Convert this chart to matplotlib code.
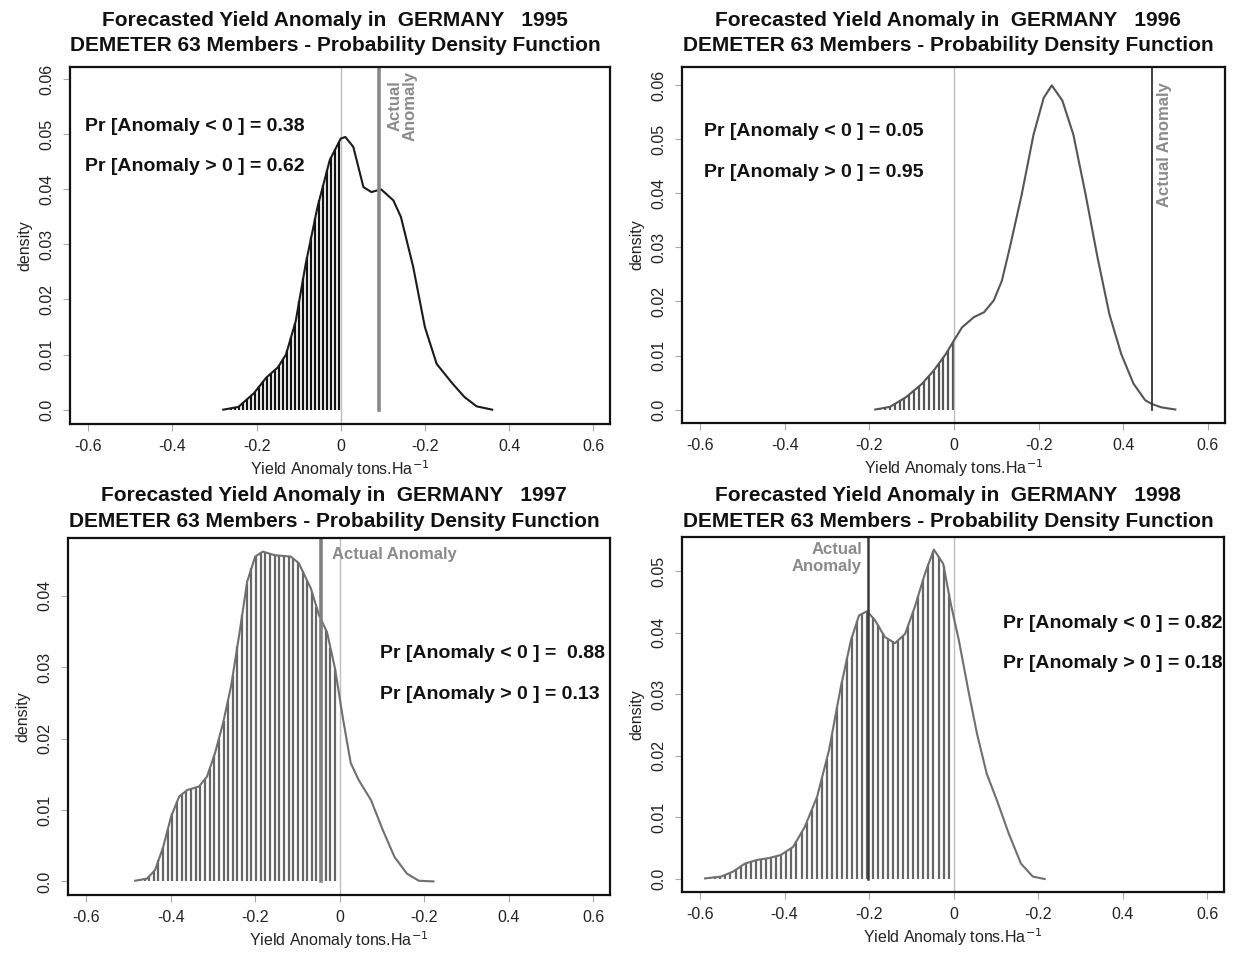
import matplotlib
matplotlib.use("Agg")
import matplotlib.pyplot as plt
import numpy as np

plt.rcParams['font.family'] = ['Liberation Sans', 'DejaVu Sans']
bold_family = ['Liberation Sans', 'DejaVu Sans']

years = [1995, 1996, 1997, 1998]

# kernel density curves (yield anomaly, density)
x95 = [-0.279, -0.243, -0.206, -0.177, -0.149, -0.130, -0.107, -0.083, -0.055, -0.026,
       0.0, 0.011, 0.030, 0.054, 0.073, 0.096, 0.125, 0.143, 0.172, 0.200,
       0.228, 0.266, 0.294, 0.323, 0.360]
d95 = [0.0, 0.0005, 0.003, 0.0058, 0.0077, 0.0100, 0.0160, 0.0265, 0.0368, 0.0453,
       0.0492, 0.0495, 0.0477, 0.0404, 0.0395, 0.0400, 0.0380, 0.0350, 0.0260, 0.0150,
       0.0083, 0.0047, 0.0023, 0.0006, 0.0]

x96 = [-0.186, -0.151, -0.113, -0.075, -0.047, -0.019, 0.0, 0.019, 0.047, 0.071,
       0.094, 0.113, 0.132, 0.160, 0.188, 0.212, 0.231, 0.256, 0.282, 0.311,
       0.339, 0.367, 0.395, 0.424, 0.452, 0.468, 0.490, 0.523]
d96 = [0.0, 0.0005, 0.0023, 0.0048, 0.0073, 0.0103, 0.0128, 0.0152, 0.0171, 0.0180,
       0.0202, 0.0238, 0.0300, 0.0398, 0.0509, 0.0577, 0.0600, 0.0572, 0.0509, 0.0398,
       0.0282, 0.0177, 0.0103, 0.0048, 0.0017, 0.0010, 0.0004, 0.0]

x97 = [-0.484, -0.456, -0.437, -0.418, -0.399, -0.380, -0.361, -0.333, -0.314, -0.295,
       -0.276, -0.257, -0.238, -0.219, -0.200, -0.182, -0.154, -0.116, -0.097, -0.068,
       -0.049, -0.030, -0.011, 0.008, 0.026, 0.045, 0.074, 0.102, 0.130, 0.159,
       0.187, 0.222]
d97 = [0.0001, 0.0004, 0.0016, 0.0048, 0.0091, 0.0119, 0.0128, 0.0133, 0.0147, 0.0180,
       0.0222, 0.0274, 0.0345, 0.0420, 0.0455, 0.0462, 0.0457, 0.0455, 0.0446, 0.0410,
       0.0373, 0.0349, 0.0298, 0.0227, 0.0166, 0.0142, 0.0114, 0.0072, 0.0034, 0.0011,
       0.0001, 0.0]

x98 = [-0.588, -0.550, -0.522, -0.494, -0.465, -0.437, -0.409, -0.380, -0.352, -0.323,
       -0.295, -0.267, -0.243, -0.224, -0.205, -0.186, -0.163, -0.139, -0.115, -0.092,
       -0.068, -0.047, -0.025, -0.007, 0.012, 0.036, 0.055, 0.078, 0.102, 0.130,
       0.159, 0.187, 0.215]
d98 = [0.0001, 0.0004, 0.0012, 0.0025, 0.0031, 0.0034, 0.0039, 0.0052, 0.0085, 0.0134,
       0.0209, 0.0312, 0.0388, 0.0428, 0.0435, 0.0420, 0.0393, 0.0383, 0.0398, 0.0442,
       0.0496, 0.0535, 0.0512, 0.0447, 0.0388, 0.0301, 0.0236, 0.0171, 0.0128, 0.0074,
       0.0025, 0.0004, 0.0]

actual = [0.09, 0.468, -0.044, -0.202]
pr_below = ['0.38', '0.05', ' 0.88', '0.82']
pr_above = ['0.62', '0.95', '0.13', '0.18']

xticks = [-0.6, -0.4, -0.2, 0.0, 0.2, 0.4, 0.6]
xticklabels = ['-0.6', '-0.4', '-0.2', '0', '-0.2', '0.4', '0.6']
yticks = [[0.0, 0.01, 0.02, 0.03, 0.04, 0.05, 0.06],
          [0.0, 0.01, 0.02, 0.03, 0.04, 0.05, 0.06],
          [0.0, 0.01, 0.02, 0.03, 0.04],
          [0.0, 0.01, 0.02, 0.03, 0.04, 0.05]]
yticklabels = [['0.0', '0.01', '0.02', '0.03', '0.04', '0.05', '0.06'],
               ['0.0', '0.01', '0.02', '0.03', '0.04', '0.05', '0.06'],
               ['0.0', '0.01', '0.02', '0.03', '0.04'],
               ['0.0', '0.01', '0.02', '0.03', '0.04', '0.05']]

curves = [(x95, d95), (x96, d96), (x97, d97), (x98, d98)]
ylims = [(-0.0026, 0.0622), (-0.0025, 0.0634), (-0.0019, 0.0481), (-0.0021, 0.0555)]
positions = [[0.0568, 0.5565, 0.438, 0.3734],
             [0.553, 0.5575, 0.4404, 0.3724],
             [0.0552, 0.0638, 0.4396, 0.3734],
             [0.553, 0.067, 0.4400, 0.3710]]
title_y = [0.979, 0.979, 0.482, 0.482]
curve_col = ['#1a1a1a', '#555555', '#6f6f6f', '#6f6f6f']
hatch_col = ['#111111', '#555555', '#666666', '#666666']
hatch_step = [0.0095, 0.0115, 0.011, 0.012]
actual_col = ['#888888', '#333333', '#808080', '#3a3a3a']
actual_lw = [2.6, 1.3, 2.6, 1.8]

fig = plt.figure(figsize=(12.33, 9.56), dpi=100)

for i in range(4):
    ax = fig.add_axes(positions[i])
    xs, ds = np.array(curves[i][0]), np.array(curves[i][1])

    # vertical shading under the curve for negative anomalies
    hx = np.arange(xs[0], 0.0, hatch_step[i])
    ax.vlines(hx, 0, np.interp(hx, xs, ds), color=hatch_col[i], lw=1.6)

    ax.axvline(0, color='#bdbdbd', lw=1.0)
    ax.plot(xs, ds, color=curve_col[i], lw=1.5, solid_joinstyle='round')
    ax.plot([actual[i], actual[i]], [0, ylims[i][1]], color=actual_col[i],
            lw=actual_lw[i])

    ax.set_xlim(-0.643, 0.64)
    ax.set_ylim(*ylims[i])
    ax.set_xticks(xticks)
    ax.set_xticklabels(xticklabels)
    ax.set_yticks(yticks[i])
    ax.set_yticklabels(yticklabels[i], rotation=90, va='center')
    ax.tick_params(length=5, color='#aaaaaa', labelsize=11.5, labelcolor='#222222',
                   pad=6)
    for s in ax.spines.values():
        s.set_linewidth(1.6)
        s.set_color('#111111')

    ax.set_xlabel('Yield Anomaly tons.Ha$^{-1}$', fontsize=11.5, color='#222222',
                  labelpad=3)
    ax.set_ylabel('density', fontsize=11.5, color='#222222', labelpad=5)

    bb = ax.get_position()
    cx = (bb.x0 + bb.x1) / 2 - 0.004
    ty = title_y[i]
    fig.text(cx, ty, 'Forecasted Yield Anomaly in  GERMANY   %d' % years[i],
             ha='center', va='center', fontsize=15, fontweight='bold',
             family=bold_family, color='#111111')
    fig.text(cx, ty - 0.027, 'DEMETER 63 Members - Probability Density Function',
             ha='center', va='center', fontsize=15, fontweight='bold',
             family=bold_family, color='#111111')

    pr_kw = dict(fontsize=14, fontweight='bold', family=bold_family, color='#111111',
                 va='center', ha='left')
    if i == 0:
        ax.text(-0.608, 0.0514, 'Pr [Anomaly < 0 ] = ' + pr_below[i], **pr_kw)
        ax.text(-0.608, 0.0442, 'Pr [Anomaly > 0 ] = ' + pr_above[i], **pr_kw)
        ax.text(0.112, 0.0615, 'Actual\nAnomaly', rotation=90, ha='left', va='top',
                multialignment='center', fontsize=12, fontweight='bold',
                color='#8a8a8a', family=bold_family, linespacing=0.95)
    elif i == 1:
        ax.text(-0.591, 0.0515, 'Pr [Anomaly < 0 ] = ' + pr_below[i], **pr_kw)
        ax.text(-0.591, 0.0438, 'Pr [Anomaly > 0 ] = ' + pr_above[i], **pr_kw)
        ax.text(0.48, 0.0605, 'Actual Anomaly', rotation=90, ha='left', va='top',
                fontsize=12, fontweight='bold', color='#8a8a8a', family=bold_family)
    elif i == 2:
        ax.text(0.0955, 0.0319, 'Pr [Anomaly < 0 ] = ' + pr_below[i], **pr_kw)
        ax.text(0.0955, 0.0262, 'Pr [Anomaly > 0 ] = ' + pr_above[i], **pr_kw)
        ax.text(-0.018, 0.0458, 'Actual Anomaly', ha='left', va='center',
                fontsize=12, fontweight='bold', color='#8a8a8a', family=bold_family)
    else:
        ax.text(0.116, 0.0415, 'Pr [Anomaly < 0 ] = ' + pr_below[i], **pr_kw)
        ax.text(0.116, 0.0350, 'Pr [Anomaly > 0 ] = ' + pr_above[i], **pr_kw)
        ax.text(-0.217, 0.0521, 'Actual\nAnomaly', ha='right', va='center',
                multialignment='right', fontsize=12, fontweight='bold',
                color='#8a8a8a', family=bold_family, linespacing=1.15)

fig.savefig('out.png', dpi=100)
